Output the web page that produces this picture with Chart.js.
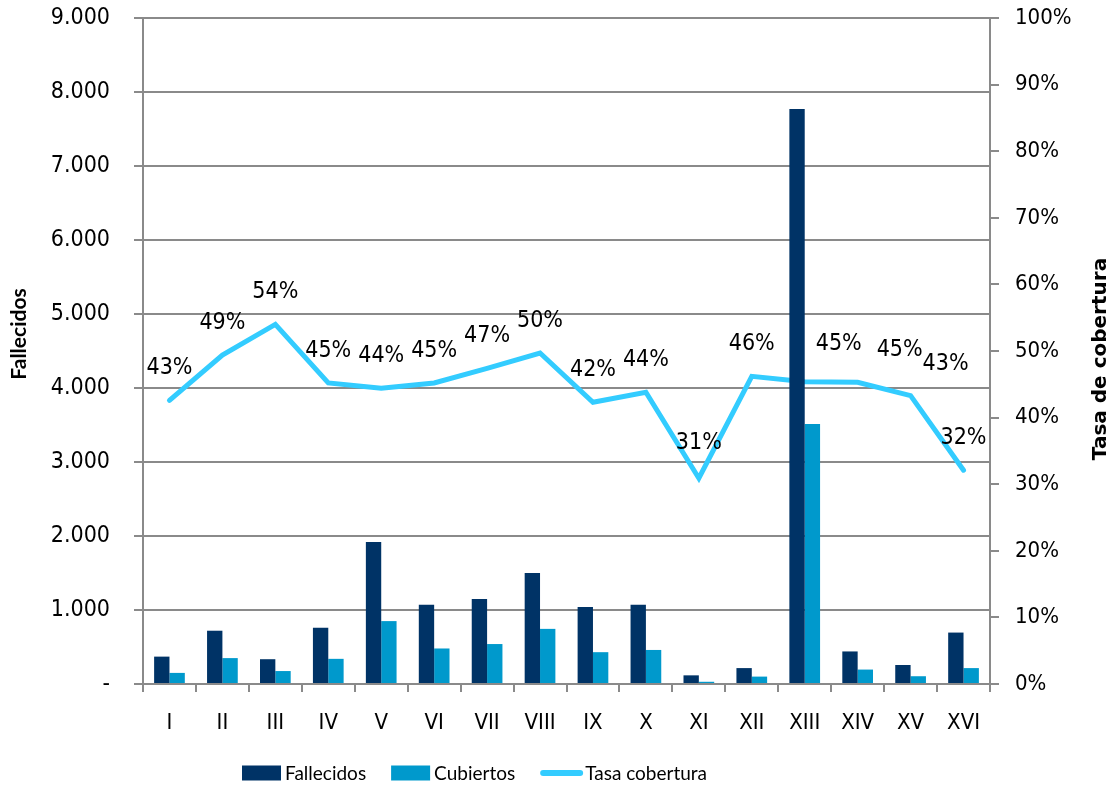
<!DOCTYPE html>
<html lang="es">
<head>
<meta charset="utf-8">
<title>Fallecidos y tasa de cobertura</title>
<script src="https://cdn.jsdelivr.net/npm/chart.js@4/dist/chart.umd.min.js"></script>
<style>
  html, body { margin: 0; padding: 0; background: #fff; }
  #graficoCobertura { display: block; }
</style>
</head>
<body>
<canvas id="graficoCobertura" width="1114" height="786"></canvas>
<script>
// Categorías (regiones)
const regiones = ["I", "II", "III", "IV", "V", "VI", "VII", "VIII", "IX", "X", "XI", "XII", "XIII", "XIV", "XV", "XVI"];

// Valores
const fallecidos = [370, 720, 335, 760, 1920, 1070, 1150, 1500, 1040, 1070, 117, 215, 7770, 440, 257, 695];
const cubiertos = [150, 350, 175, 340, 850, 480, 540, 745, 430, 460, 30, 100, 3514, 195, 105, 215];
const tasaCobertura = [0.426, 0.494, 0.540, 0.452, 0.444, 0.452, 0.474, 0.497, 0.423, 0.438, 0.309, 0.462, 0.454, 0.453, 0.433, 0.321];

// Marcas de los ejes
const ticksFallecidos = [0, 1000, 2000, 3000, 4000, 5000, 6000, 7000, 8000, 9000];
const ticksTasa = [0, 0.1, 0.2, 0.3, 0.4, 0.5, 0.6, 0.7, 0.8, 0.9, 1];

(() => {
  const gris = "#8a8a8a";
  const fuenteNum = "'DejaVu Sans Condensed', 'DejaVu Sans', Verdana, sans-serif";
  const fuenteTxt = "Lato, 'Liberation Sans', Arial, sans-serif";

  // Formato 9.000 y guion para el cero
  function miles(v) {
    if (v === 0) return "-";
    return String(v).replace(/\B(?=(\d{3})+(?!\d))/g, ".");
  }

  // Ancho fijo del eje y sin relleno extra arriba/abajo
  function fijaAncho(ancho) {
    return (s) => {
      s.width = ancho;
      s.paddingTop = 0;
      s.paddingBottom = 0;
    };
  }

  // Etiquetas de porcentaje encima de la línea
  const etiquetasLinea = {
    id: "etiquetasLinea",
    afterDatasetsDraw(chart, args, opts) {
      const meta = chart.getDatasetMeta(2);
      const ctx = chart.ctx;
      ctx.save();
      ctx.font = "23px " + fuenteNum;
      ctx.fillStyle = "#000";
      ctx.textAlign = "center";
      ctx.textBaseline = "middle";
      meta.data.forEach((p, i) => {
        const ajuste = opts.ajustes[i] || [0, 0];
        const txt = Math.round(tasaCobertura[i] * 100) + "%";
        ctx.fillText(txt, p.x + ajuste[0], p.y - 32 + ajuste[1]);
      });
      ctx.restore();
    }
  };

  // Títulos de los ejes, girados y leídos de abajo hacia arriba
  const titulosEjes = {
    id: "titulosEjes",
    afterDraw(chart, args, opts) {
      const ctx = chart.ctx;
      opts.titulos.forEach((t) => {
        ctx.save();
        ctx.translate(t.x, t.y);
        ctx.rotate(-Math.PI / 2);
        ctx.font = t.font;
        ctx.fillStyle = "#000";
        ctx.textAlign = "center";
        ctx.textBaseline = "middle";
        ctx.fillText(t.texto, 0, 0);
        ctx.restore();
      });
    }
  };

  // Leyenda inferior dibujada a mano (como en Excel, algo desplazada a la izquierda)
  const leyenda = {
    id: "leyenda",
    afterDraw(chart, args, opts) {
      const ctx = chart.ctx;
      let x = opts.x;
      const y = opts.y;
      ctx.save();
      ctx.font = opts.font;
      ctx.textBaseline = "middle";
      ctx.textAlign = "left";
      chart.data.datasets.forEach((ds) => {
        if (ds.type === "line") {
          ctx.strokeStyle = ds.borderColor;
          ctx.lineWidth = 6;
          ctx.lineCap = "round";
          ctx.beginPath();
          ctx.moveTo(x + 3, y);
          ctx.lineTo(x + 40, y);
          ctx.stroke();
          x += 45;
        } else {
          ctx.fillStyle = ds.backgroundColor;
          ctx.fillRect(x, y - 7.5, 39, 15);
          x += 43;
        }
        ctx.fillStyle = "#000";
        ctx.fillText(ds.label, x, y + 1);
        x += ctx.measureText(ds.label).width + 25;
      });
      ctx.restore();
    }
  };

  function dibujaGrafico() {
    const canvas = document.getElementById("graficoCobertura");
    const ctx = canvas.getContext("2d");

    new Chart(ctx, {
      type: "bar",
      data: {
        labels: regiones,
        datasets: [
          {
            label: "Fallecidos",
            data: fallecidos,
            backgroundColor: "#003366",
            yAxisID: "y",
            order: 1,
            categoryPercentage: 0.58,
            barPercentage: 1
          },
          {
            label: "Cubiertos",
            data: cubiertos,
            backgroundColor: "#0099cc",
            yAxisID: "y",
            order: 2,
            categoryPercentage: 0.58,
            barPercentage: 1
          },
          {
            type: "line",
            label: "Tasa cobertura",
            data: tasaCobertura,
            borderColor: "#33ccff",
            backgroundColor: "#33ccff",
            borderWidth: 5,
            borderCapStyle: "round",
            borderJoinStyle: "miter",
            pointRadius: 0,
            pointHoverRadius: 0,
            tension: 0,
            yAxisID: "y1",
            order: 3
          }
        ]
      },
      options: {
        responsive: false,
        animation: false,
        layout: { padding: { top: 18, right: 0, bottom: 0, left: 0 } },
        plugins: {
          legend: { display: false },
          tooltip: { enabled: false },
          etiquetasLinea: {
            ajustes: { 10: [0, -3], 12: [34, -6], 13: [42, 0], 14: [35, 0] }
          },
          titulosEjes: {
            titulos: [
              { texto: "Fallecidos", x: 19, y: 334, font: "bold 21px " + fuenteTxt },
              { texto: "Tasa de cobertura", x: 1101, y: 359, font: "bold 20px 'DejaVu Sans', sans-serif" }
            ]
          },
          leyenda: { x: 242, y: 773, font: "19px " + fuenteTxt }
        },
        scales: {
          x: {
            offset: true,
            afterFit: (s) => { s.height = 102; },
            grid: {
              display: true,
              offset: true,
              drawOnChartArea: false,
              drawTicks: true,
              tickLength: 8,
              color: gris,
              lineWidth: 2
            },
            border: { color: gris, width: 2 },
            ticks: {
              padding: 18,
              color: "#000",
              font: { family: fuenteNum, size: 22 }
            }
          },
          y: {
            position: "left",
            min: 0,
            max: 9000,
            afterFit: fijaAncho(143),
            afterBuildTicks: (s) => { s.ticks = ticksFallecidos.map(v => ({ value: v })); },
            grid: { color: gris, lineWidth: 2, drawTicks: true, tickLength: 9 },
            border: { color: gris, width: 2 },
            ticks: {
              padding: 24,
              color: "#000",
              font: { family: fuenteNum, size: 23 },
              callback: (v) => miles(v)
            }
          },
          y1: {
            position: "right",
            min: 0,
            max: 1,
            afterFit: fijaAncho(124),
            afterBuildTicks: (s) => { s.ticks = ticksTasa.map(v => ({ value: v })); },
            grid: { drawOnChartArea: false, drawTicks: true, tickLength: 9, color: gris, lineWidth: 2 },
            border: { color: gris, width: 2 },
            ticks: {
              padding: 16,
              color: "#000",
              font: { family: fuenteNum, size: 22 },
              callback: (v) => Math.round(v * 100) + "%"
            }
          }
        }
      },
      plugins: [etiquetasLinea, titulosEjes, leyenda]
    });
  }

  document.addEventListener("DOMContentLoaded", dibujaGrafico);
})();
</script>
</body>
</html>
